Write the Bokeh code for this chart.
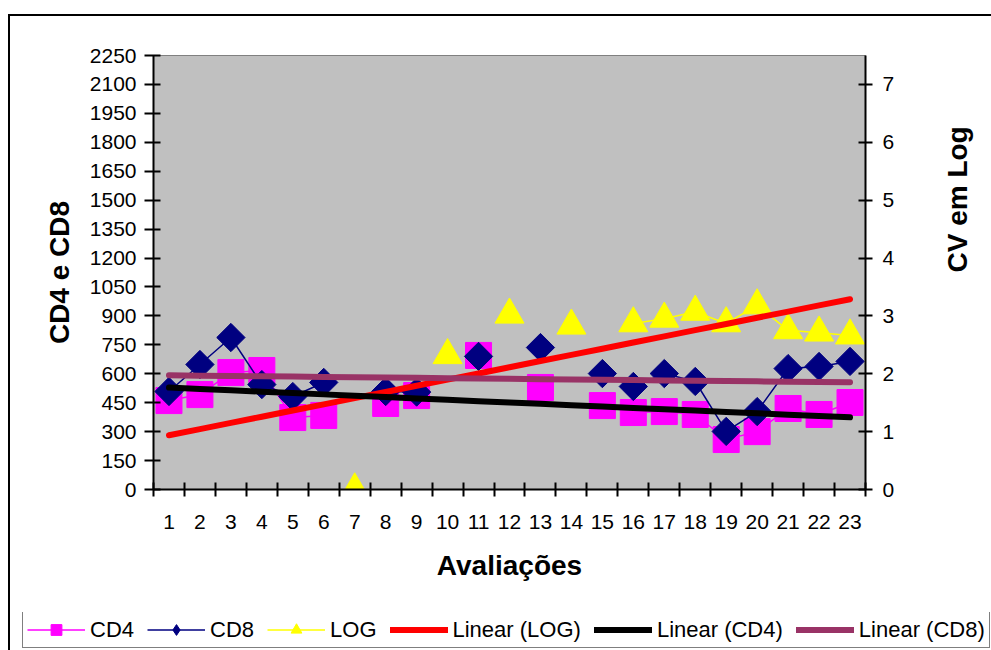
import numpy as np
from bokeh.plotting import figure
from bokeh.layouts import column
from bokeh.models import (Range1d, LinearAxis, FixedTicker, Legend, LegendItem)
from bokeh.embed import file_html
from bokeh.resources import INLINE

nan = float("nan")

# ---- data -------------------------------------------------------------
avaliacoes = list(range(1, 24))
cd4 = [461, 492, 606, 617, 373, 384, nan, 446, 487, nan, 695, nan, 529, nan,
       435, 399, 404, 389, 259, 300, 420, 389, 451]
cd8 = [508, 648, 788, 544, 482, 555, nan, 508, 505, nan, 690, nan, 736, nan,
       601, 534, 601, 560, 301, 404, 627, 638, 664]
log_cv = [nan, nan, nan, nan, nan, nan, 0.0, nan, nan, 2.32, nan, 3.02, nan,
          2.83, nan, 2.87, 2.95, 3.07, 2.87, 3.18, 2.75, 2.71, 2.66]
left_ticks = list(range(0, 2251, 150))
right_ticks = list(range(0, 8))
legend_labels = ["CD4", "CD8", "LOG", "Linear (LOG)", "Linear (CD4)", "Linear (CD8)"]

FONT = "Liberation Sans"

# series styles
ST_CD4 = dict(line_color="#FF00FF", line_width=1.5)
MK_CD4 = dict(marker="square", size=26, fill_color="#FF00FF", line_color="#FF00FF")
ST_CD8 = dict(line_color="#000080", line_width=1.5)
MK_CD8 = dict(marker="square", angle=np.pi / 4, size=20, fill_color="#000080",
              line_color="#000080")
MK_CD8_LEG = dict(marker="diamond", size=20, fill_color="#000080",
                  line_color="#000080")
ST_LOG = dict(line_color="#FFFF00", line_width=1.5)
MK_LOG = dict(marker="triangle", size=29, fill_color="#FFFF00", line_color="#FFFF00")
TR_LOG = dict(line_color="#FF0000", line_width=6, line_cap="round")
TR_CD4 = dict(line_color="black", line_width=6, line_cap="round")
TR_CD8 = dict(line_color="#993366", line_width=6, line_cap="round")


def trend(xs, ys):
    xa = np.array(xs, dtype=float)
    ya = np.array(ys, dtype=float)
    ok = ~np.isnan(ya)
    coef = np.polyfit(xa[ok], ya[ok], 1)
    return list(np.polyval(coef, xa))


main = figure(width=991, height=612, output_backend="svg", toolbar_location=None,
              x_range=Range1d(0.5, 23.5), y_range=Range1d(0, 2250),
              min_border_left=153, min_border_right=122, min_border_top=55,
              min_border_bottom=123, background_fill_color="#C0C0C0",
              border_fill_color="white", border_fill_alpha=0)
main.styles = {
    "background": "linear-gradient(#000,#000) 8px 14px / 2px 700px no-repeat, "
                  "linear-gradient(#000,#000) 8px 14px / 1100px 2px no-repeat, #ffffff"
}
main.grid.visible = False
main.outline_line_color = "#808080"
main.outline_line_width = 1

# x axis
xa = main.xaxis[0]
xa.ticker = FixedTicker(ticks=avaliacoes,
                        minor_ticks=[a - 0.5 for a in avaliacoes] + [avaliacoes[-1] + 0.5])
xa.major_tick_in = 0
xa.major_tick_out = 0
xa.minor_tick_in = 7
xa.minor_tick_out = 7
xa.minor_tick_line_color = "black"
xa.minor_tick_line_width = 2
xa.axis_line_color = "black"
xa.axis_line_width = 2
xa.major_label_text_font = FONT
xa.major_label_text_font_size = "21px"
xa.major_label_text_color = "black"
xa.major_label_standoff = 18
xa.axis_label = "Avaliações"
xa.axis_label_text_font = FONT
xa.axis_label_text_font_size = "28px"
xa.axis_label_text_font_style = "bold"
xa.axis_label_text_color = "black"
xa.axis_label_standoff = 18

# left axis
ya = main.yaxis[0]
ya.ticker = FixedTicker(ticks=left_ticks)
ya.major_tick_in = 7
ya.major_tick_out = 9
ya.major_tick_line_width = 2
ya.major_tick_line_color = "black"
ya.minor_tick_line_color = None
ya.axis_line_color = "black"
ya.axis_line_width = 2
ya.major_label_text_font = FONT
ya.major_label_text_font_size = "21px"
ya.major_label_text_color = "black"
ya.major_label_standoff = 8
ya.axis_label = "CD4 e CD8"
ya.axis_label_text_font = FONT
ya.axis_label_text_font_size = "28px"
ya.axis_label_text_font_style = "bold"
ya.axis_label_text_color = "black"
ya.axis_label_standoff = 12

# right axis
main.extra_y_ranges = {"log": Range1d(0, 7.5)}
ra = LinearAxis(y_range_name="log", ticker=FixedTicker(ticks=right_ticks),
                major_tick_in=7, major_tick_out=7, major_tick_line_width=2,
                major_tick_line_color="black", minor_tick_line_color=None,
                axis_line_color="black", axis_line_width=2,
                major_label_text_font=FONT, major_label_text_font_size="21px",
                major_label_text_color="black", major_label_standoff=10,
                axis_label="CV em Log", axis_label_text_font=FONT,
                axis_label_text_font_size="28px", axis_label_text_font_style="bold",
                axis_label_text_color="black", axis_label_standoff=60)
try:
    ra.axis_label_orientation = np.pi / 2
except Exception:
    pass
main.add_layout(ra, "right")

# series
main.line(avaliacoes, cd4, **ST_CD4)
main.scatter(avaliacoes, cd4, **MK_CD4)
main.line(avaliacoes, cd8, **ST_CD8)
main.scatter(avaliacoes, cd8, **MK_CD8)
main.line(avaliacoes, log_cv, y_range_name="log", **ST_LOG)
main.scatter(avaliacoes, log_cv, y_range_name="log", **MK_LOG)

# trend lines (least squares on the plotted points)
main.line(avaliacoes, trend(avaliacoes, log_cv), y_range_name="log", **TR_LOG)
main.line(avaliacoes, trend(avaliacoes, cd4), **TR_CD4)
main.line(avaliacoes, trend(avaliacoes, cd8), **TR_CD8)

# ---- legend strip (separate figure, same styles) ----------------------
leg = figure(width=991, height=38, output_backend="svg", toolbar_location=None,
             x_range=Range1d(0, 1), y_range=Range1d(0, 1),
             min_border=0, border_fill_alpha=0, background_fill_alpha=0,
             x_axis_location=None, y_axis_location=None)
leg.styles = {
    "background": "linear-gradient(#000,#000) 8px 0px / 2px 100px no-repeat, #ffffff"
}
leg.grid.visible = False
leg.outline_line_color = None
for fig in (main, leg):
    try:
        fig.frame_align = False
    except Exception:
        pass

px, py = [nan], [nan]
r = [
    [leg.line(px, py, **ST_CD4), leg.scatter(px, py, **MK_CD4)],
    [leg.line(px, py, **ST_CD8), leg.scatter(px, py, **MK_CD8_LEG)],
    [leg.line(px, py, **ST_LOG), leg.scatter(px, py, **MK_LOG)],
    [leg.line(px, py, **TR_LOG)],
    [leg.line(px, py, **TR_CD4)],
    [leg.line(px, py, **TR_CD8)],
]
legend = Legend(items=[LegendItem(label=lab, renderers=rr)
                       for lab, rr in zip(legend_labels, r)],
                location=(22, 2), orientation="horizontal",
                border_line_color="black", border_line_width=1.5,
                background_fill_color="white", background_fill_alpha=1.0,
                label_text_font=FONT, label_text_font_size="22px",
                label_text_color="black", glyph_width=58, glyph_height=27,
                label_standoff=5, spacing=13, padding=4, margin=0)
leg.add_layout(legend)

p = column(main, leg, spacing=0)

open("out.html", "w").write(file_html(p, INLINE))
